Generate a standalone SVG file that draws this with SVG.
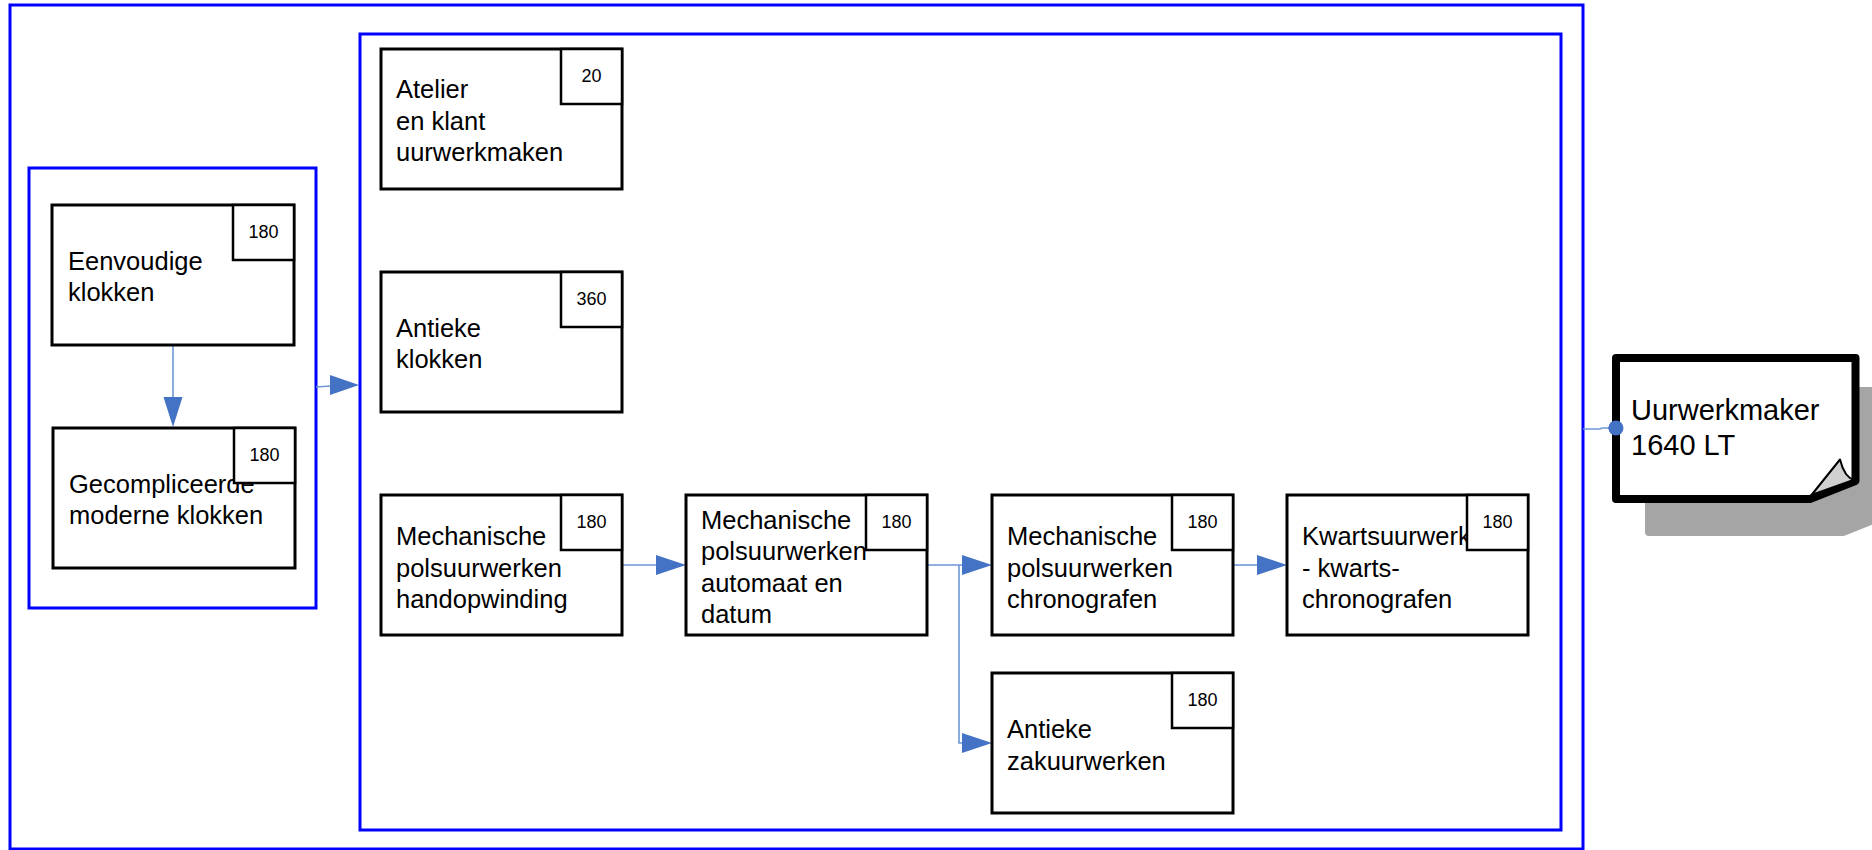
<svg xmlns="http://www.w3.org/2000/svg" width="1872" height="850" viewBox="0 0 1872 850">
<style>
.cont{fill:none;stroke:#0000ff;stroke-width:3}
.box{fill:#ffffff;stroke:#000000;stroke-width:3}
.badge{fill:#ffffff;stroke:#000000;stroke-width:2.5}
.lbl{font-family:"Liberation Sans",Arial,sans-serif;font-size:25.5px;fill:#000000}
.num{font-family:"Liberation Sans",Arial,sans-serif;font-size:18px;fill:#000000;text-anchor:middle}
.conn{fill:none;stroke:#6f97d6;stroke-width:1.6}
.head{fill:#4472c4}
</style>
<rect width="1872" height="850" fill="#ffffff"/>
<g id="containers">
<rect id="outer" class="cont" x="10" y="5" width="1573" height="844"/>
<rect id="left-group" class="cont" x="29" y="168" width="287" height="440"/>
<rect id="middle-group" class="cont" x="360" y="34" width="1201" height="796"/>
</g>
<g id="connectors">
<line class="conn" x1="173" y1="345" x2="173" y2="398"/>
<polygon class="head" points="163.5,397 182.5,397 173,427"/>
<line class="conn" x1="316" y1="387" x2="331" y2="386"/>
<polygon class="head" points="330,375 330,395 359,385"/>
<line class="conn" x1="622" y1="565" x2="657" y2="565"/>
<polygon class="head" points="656,555 656,575 686,565"/>
<polyline class="conn" points="927,565 962,565"/>
<polygon class="head" points="962,555 962,575 992,565"/>
<polyline class="conn" points="959,565 959,743 962,743"/>
<polygon class="head" points="962,733 962,753 992,743"/>
<line class="conn" x1="1233" y1="565" x2="1258" y2="565"/>
<polygon class="head" points="1257,555 1257,575 1287,565"/>
<polyline class="conn" points="1583,429 1600,429 1602,428 1616,428"/>
<circle class="head" cx="1616" cy="428" r="7.5"/>
</g>
<g id="node-eenvoudige">
<rect class="box" x="52" y="205" width="242" height="140"/>
<text class="lbl" x="68" y="270">Eenvoudige</text>
<text class="lbl" x="68" y="301">klokken</text>
<rect class="badge" x="233" y="205" width="61" height="55"/>
<text class="num" x="263.5" y="238">180</text>
</g>
<g id="node-gecompliceerde">
<rect class="box" x="53" y="428" width="242" height="140"/>
<text class="lbl" x="69" y="493">Gecompliceerde</text>
<text class="lbl" x="69" y="524">moderne klokken</text>
<rect class="badge" x="234" y="428" width="61" height="55"/>
<text class="num" x="264.5" y="461">180</text>
</g>
<g id="node-atelier">
<rect class="box" x="381" y="49" width="241" height="140"/>
<text class="lbl" x="396" y="98">Atelier</text>
<text class="lbl" x="396" y="130">en klant</text>
<text class="lbl" x="396" y="161">uurwerkmaken</text>
<rect class="badge" x="561" y="49" width="61" height="55"/>
<text class="num" x="591.5" y="82">20</text>
</g>
<g id="node-antieke-klokken">
<rect class="box" x="381" y="272" width="241" height="140"/>
<text class="lbl" x="396" y="337">Antieke</text>
<text class="lbl" x="396" y="368">klokken</text>
<rect class="badge" x="561" y="272" width="61" height="55"/>
<text class="num" x="591.5" y="305">360</text>
</g>
<g id="node-handopwinding">
<rect class="box" x="381" y="495" width="241" height="140"/>
<text class="lbl" x="396" y="545">Mechanische</text>
<text class="lbl" x="396" y="577">polsuurwerken</text>
<text class="lbl" x="396" y="608">handopwinding</text>
<rect class="badge" x="561" y="495" width="61" height="55"/>
<text class="num" x="591.5" y="528">180</text>
</g>
<g id="node-automaat">
<rect class="box" x="686" y="495" width="241" height="140"/>
<text class="lbl" x="701" y="529">Mechanische</text>
<text class="lbl" x="701" y="560">polsuurwerken</text>
<text class="lbl" x="701" y="592">automaat en</text>
<text class="lbl" x="701" y="623">datum</text>
<rect class="badge" x="866" y="495" width="61" height="55"/>
<text class="num" x="896.5" y="528">180</text>
</g>
<g id="node-chronografen">
<rect class="box" x="992" y="495" width="241" height="140"/>
<text class="lbl" x="1007" y="545">Mechanische</text>
<text class="lbl" x="1007" y="577">polsuurwerken</text>
<text class="lbl" x="1007" y="608">chronografen</text>
<rect class="badge" x="1172" y="495" width="61" height="55"/>
<text class="num" x="1202.5" y="528">180</text>
</g>
<g id="node-kwarts">
<rect class="box" x="1287" y="495" width="241" height="140"/>
<text class="lbl" x="1302" y="545">Kwartsuurwerken</text>
<text class="lbl" x="1302" y="577">- kwarts-</text>
<text class="lbl" x="1302" y="608">chronografen</text>
<rect class="badge" x="1467" y="495" width="61" height="55"/>
<text class="num" x="1497.5" y="528">180</text>
</g>
<g id="node-zakuurwerken">
<rect class="box" x="992" y="673" width="241" height="140"/>
<text class="lbl" x="1007" y="738">Antieke</text>
<text class="lbl" x="1007" y="770">zakuurwerken</text>
<rect class="badge" x="1172" y="673" width="61" height="55"/>
<text class="num" x="1202.5" y="706">180</text>
</g>
<g id="node-uurwerkmaker">
<path d="M1649,391 H1888 V514 L1843,532 H1649 Z" fill="#a5a5a5" stroke="#a5a5a5" stroke-width="8" stroke-linejoin="round"/>
<path d="M1616,358 H1855.5 V481 L1810,499 H1616 Z" fill="#ffffff" stroke="#000000" stroke-width="8" stroke-linejoin="round"/>
<path d="M1811.5,495 L1840,459.5 Q1842,468 1846,474 Q1849,478 1853.5,480 Z" fill="#d0d0d0" stroke="#000000" stroke-width="2" stroke-linejoin="round"/>
<text x="1631" y="420" font-family="'Liberation Sans',Arial,sans-serif" font-size="29" fill="#000000">Uurwerkmaker</text>
<text x="1631" y="455" font-family="'Liberation Sans',Arial,sans-serif" font-size="29" fill="#000000">1640 LT</text>
<circle cx="1616" cy="428" r="7.5" fill="#4472c4"/>
</g>
</svg>
